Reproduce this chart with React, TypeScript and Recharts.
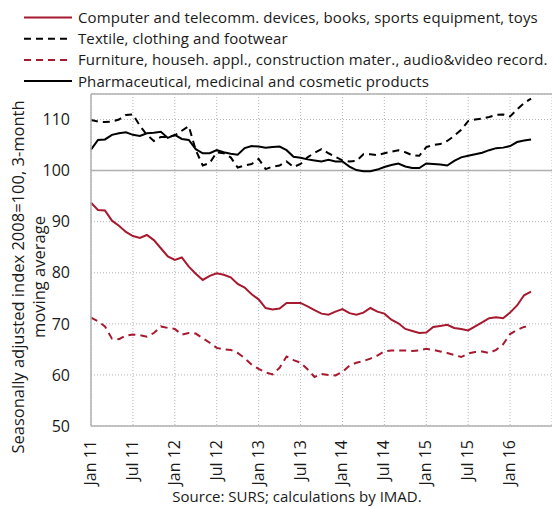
import React from "react";
import { LineChart, Line, XAxis, YAxis, CartesianGrid, ReferenceLine } from "recharts";

// Month index 0 = Jan 11 ... 63 = Apr 16
const tickLabels = ["Jan 11", "Jul 11", "Jan 12", "Jul 12", "Jan 13", "Jul 13", "Jan 14", "Jul 14", "Jan 15", "Jul 15", "Jan 16"];
const yTicks = [50, 60, 70, 80, 90, 100, 110];

const computer = [
  93.7, 92.3, 92.2, 90.2, 89.2, 88.0, 87.2, 86.8, 87.4, 86.4,
  84.8, 83.2, 82.5, 83.0, 81.2, 79.8, 78.6, 79.4, 79.9, 79.6,
  79.1, 77.8, 77.1, 75.8, 74.8, 73.1, 72.8, 73.0, 74.1, 74.1,
  74.1, 73.4, 72.7, 72.0, 71.8, 72.4, 72.9, 72.1, 71.8, 72.2,
  73.1, 72.4, 72.0, 70.8, 70.1, 69.0, 68.6, 68.2, 68.3, 69.4,
  69.6, 69.8, 69.2, 69.0, 68.7, 69.5, 70.3, 71.1, 71.3, 71.1,
  72.2, 73.6, 75.6, 76.3,
];
const textile = [
  109.9, 109.6, 109.5, 109.6, 110.0, 110.9, 111.0, 108.8, 107.0, 105.8,
  106.6, 106.6, 106.9, 107.8, 108.7, 104.0, 101.0, 101.5, 103.6, 103.4,
  102.6, 100.6, 101.0, 101.3, 102.3, 100.3, 100.8, 101.0, 101.8, 100.7,
  101.3, 102.6, 103.5, 104.2, 103.4, 102.7, 102.0, 101.8, 101.9, 103.2,
  103.2, 103.0, 103.4, 103.7, 104.0, 103.6, 103.0, 102.9, 104.6, 105.0,
  105.2, 105.8, 106.8, 108.0, 109.7, 110.0, 110.2, 110.5, 110.9, 111.0,
  110.6, 112.0, 113.2, 114.1,
];
const furniture = [
  71.2, 70.5, 69.5, 67.1, 67.0, 67.7, 67.9, 67.8, 67.5, 68.2,
  69.5, 69.2, 69.0, 67.9, 68.2, 68.1, 67.2, 66.3, 65.3, 65.0,
  64.9, 64.3, 63.3, 62.0, 61.2, 60.5, 60.1, 61.4, 63.6, 62.9,
  62.4, 61.1, 59.6, 60.2, 60.0, 59.9, 60.6, 61.8, 62.4, 62.7,
  63.2, 63.8, 64.6, 64.8, 64.8, 64.8, 64.7, 64.8, 65.1, 64.9,
  64.6, 64.3, 63.9, 63.5, 64.2, 64.5, 64.6, 64.3, 64.9, 66.0,
  68.0, 68.8, 69.4, 69.6,
];
const pharma = [
  104.1, 106.0, 106.1, 107.0, 107.3, 107.5, 107.0, 106.8, 107.3, 107.4,
  107.6, 106.4, 107.0, 106.2, 106.0, 104.2, 103.4, 103.4, 104.0, 103.6,
  103.3, 103.1, 104.4, 104.8, 104.7, 104.5, 104.6, 104.7, 104.0, 102.7,
  102.5, 102.2, 102.0, 101.8, 102.1, 101.8, 101.8, 100.8, 100.1, 99.9,
  99.9, 100.2, 100.7, 101.1, 101.4, 100.8, 100.5, 100.5, 101.4, 101.3,
  101.2, 101.0, 101.9, 102.6, 102.9, 103.2, 103.5, 104.0, 104.4, 104.5,
  104.8, 105.6, 105.9, 106.1,
];

const seriesNames = [
  "Computer and telecomm. devices, books, sports equipment, toys",
  "Textile, clothing and footwear",
  "Furniture, househ. appl., construction mater., audio&video record.",
  "Pharmaceutical, medicinal and cosmetic products",
];
const yTitle = ["Seasonally adjusted index 2008=100, 3-month", "moving average"];
const sourceText = "Source: SURS; calculations by IMAD.";

const RED = "#A6192E";
const FONT = "'Open Sans', sans-serif";
const series = [
  { key: "computer", name: seriesNames[0], color: RED, dash: undefined as string | undefined },
  { key: "textile", name: seriesNames[1], color: "#000000", dash: "7 5" },
  { key: "furniture", name: seriesNames[2], color: RED, dash: "7 5" },
  { key: "pharma", name: seriesNames[3], color: "#000000", dash: undefined as string | undefined },
];

const data = computer.map((v, i) => ({
  i,
  computer: v,
  textile: textile[i],
  furniture: furniture[i],
  pharma: pharma[i],
}));
const xTicks = tickLabels.map((_, k) => k * 6);

const W = 552;
const H = 508;
const PLOT_TOP = 94;
const PLOT_BOTTOM = 426;

const XTick = (props: any) => {
  const { x, y, payload } = props;
  return (
    <g transform={`translate(${x},${y + 6})`}>
      <text
        x={0}
        y={0}
        dy={5}
        textAnchor="end"
        transform="rotate(-90)"
        fontFamily={FONT}
        fontSize={16}
        fill="#1a1a1a"
      >
        {tickLabels[Math.round(payload.value / 6)]}
      </text>
    </g>
  );
};

export default function App() {
  return (
    <div style={{ position: "absolute", left: 0, top: 0, width: W, height: H, background: "#fff" }}>
      <LineChart
        width={W}
        height={H}
        data={data}
        margin={{ top: PLOT_TOP, right: 0, bottom: 0, left: 1 }}
      >
        <CartesianGrid stroke="#b5b5b5" strokeDasharray="1 2" />
        <XAxis
          type="number"
          dataKey="i"
          domain={[0, 66]}
          ticks={xTicks}
          interval={0}
          tickLine={false}
          axisLine={{ stroke: "#b0b0b0", strokeWidth: 1.5 }}
          tick={<XTick />}
          height={H - PLOT_BOTTOM}
        />
        <YAxis
          domain={[50, 115]}
          ticks={yTicks}
          interval={0}
          width={90}
          tickLine={false}
          axisLine={{ stroke: "#b0b0b0", strokeWidth: 1.5 }}
          tick={{ fontFamily: FONT, fontSize: 16, fill: "#1a1a1a", dx: -13 }}
        />
        <ReferenceLine y={100} stroke="#b0b0b0" strokeWidth={1.5} />
        <ReferenceLine y={115} stroke="#b0b0b0" strokeWidth={1.5} />
        {series.map((s) => (
          <Line
            key={s.key}
            type="linear"
            dataKey={s.key}
            name={s.name}
            stroke={s.color}
            strokeWidth={2}
            strokeDasharray={s.dash}
            dot={false}
            activeDot={false}
            isAnimationActive={false}
          />
        ))}
      </LineChart>
      <svg
        width={W}
        height={H}
        style={{ position: "absolute", left: 0, top: 0, pointerEvents: "none" }}
      >
        {series.map((s, k) => {
          const cy = 17.5 + k * 21.2;
          return (
            <g key={s.key}>
              <line x1={24} x2={72} y1={cy} y2={cy} stroke={s.color} strokeWidth={2} strokeDasharray={s.dash} />
              <text x={78} y={cy} dy={5.5} fontFamily={FONT} fontSize={15} letterSpacing={0.1} fill="#1a1a1a">
                {s.name}
              </text>
            </g>
          );
        })}
        {yTitle.map((t, k) => (
          <text
            key={k}
            transform={`translate(${18 + k * 21},277) rotate(-90)`}
            textAnchor="middle"
            dy={5.5}
            fontFamily={FONT}
            fontSize={16.5}
            fill="#1a1a1a"
          >
            {t}
          </text>
        ))}
        <text x={297} y={497} dy={5} textAnchor="middle" fontFamily={FONT} fontSize={15} fill="#1a1a1a">
          {sourceText}
        </text>
      </svg>
    </div>
  );
}
